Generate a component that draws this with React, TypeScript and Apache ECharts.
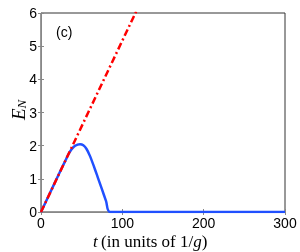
import React, { useEffect, useRef } from "react";
import * as echarts from "echarts";

const blueT = [0, 10, 20, 30, 35, 40, 45, 48, 52, 56, 60, 65, 70, 75, 80, 85, 300];
const blueE = [0, 0.52, 1.04, 1.55, 1.8, 1.96, 2.03, 2.04, 2.01, 1.9, 1.7, 1.38, 1.03, 0.68, 0.33, 0, 0];
const redT = [0, 120];
const redE = [0, 6.2];
const xTicks = [0, 100, 200, 300];
const yTicks = [0, 1, 2, 3, 4, 5, 6];

export default function App() {
  const ref = useRef<HTMLDivElement>(null);
  useEffect(() => {
    const chart = echarts.init(ref.current!, null, { renderer: "svg" });
    const font = "Liberation Sans, Arial, sans-serif";
    const serif = "Liberation Serif, Times New Roman, serif";
    chart.setOption({
      animation: false,
      grid: { left: 41, top: 13, width: 244, height: 199, show: true, borderColor: "#333", borderWidth: 1 },
      xAxis: [
        {
          type: "value", min: 0, max: 300, interval: 100,
          axisLine: { show: true, lineStyle: { color: "#888" } },
          axisTick: { show: true, inside: true, length: 3, lineStyle: { color: "#888" } },
          axisLabel: { color: "#000", fontSize: 14, fontFamily: font, margin: 4, lineHeight: 14 },
          splitLine: { show: false },
        },
        {
          type: "value", min: 0, max: 300, interval: 100, position: "top",
          axisLine: { show: false },
          axisTick: { show: true, inside: true, length: 3, lineStyle: { color: "#888" } },
          axisLabel: { show: false }, splitLine: { show: false },
        },
      ],
      yAxis: [
        {
          type: "value", min: 0, max: 6, interval: 1,
          axisLine: { show: true, lineStyle: { color: "#888" } },
          axisTick: { show: true, inside: true, length: 3, lineStyle: { color: "#888" } },
          axisLabel: { color: "#000", fontSize: 14, fontFamily: font, margin: 4 },
          splitLine: { show: false },
        },
        {
          type: "value", min: 0, max: 6, interval: 1, position: "right",
          axisLine: { show: false },
          axisTick: { show: true, inside: true, length: 3, lineStyle: { color: "#888" } },
          axisLabel: { show: false }, splitLine: { show: false },
        },
      ],
      series: [
        {
          type: "line", data: blueT.map((t, i) => [t, blueE[i]]), showSymbol: false, smooth: 0.3, clip: true,
          lineStyle: { color: "#2050ff", width: 2.5 },
        },
        {
          type: "line", data: redT.map((t, i) => [t, redE[i]]), showSymbol: false, clip: true,
          lineStyle: { color: "#ff0000", width: 2.5, type: [7, 3, 2, 3] },
        },
      ],
      graphic: [
        { type: "text", left: 56, top: 25, style: { text: "(c)", fontSize: 14, fontFamily: font, fill: "#000" } },
        {
          type: "text", x: 8, y: 120, rotation: Math.PI / 2,
          style: {
            text: "{e|E}{n|N}",
            rich: {
              e: { fontSize: 19, fontStyle: "italic", fontFamily: serif, fill: "#000" },
              n: { fontSize: 13, fontStyle: "italic", fontFamily: serif, fill: "#000", verticalAlign: "bottom", padding: [7, 0, 0, 0] },
            },
          },
        },
        {
          type: "text", left: 93, top: 233,
          style: {
            text: "{i|t} {r|(in units of 1/}{i|g}{r|)}",
            rich: {
              i: { fontSize: 17, fontStyle: "italic", fontFamily: serif, fill: "#000", lineHeight: 17 },
              r: { fontSize: 17, fontFamily: serif, fill: "#000", lineHeight: 17 },
            },
          },
        },
      ],
    });
    return () => chart.dispose();
  }, []);
  return <div ref={ref} style={{ width: 300, height: 252, position: "fixed", left: 0, top: 0 }} />;
}
